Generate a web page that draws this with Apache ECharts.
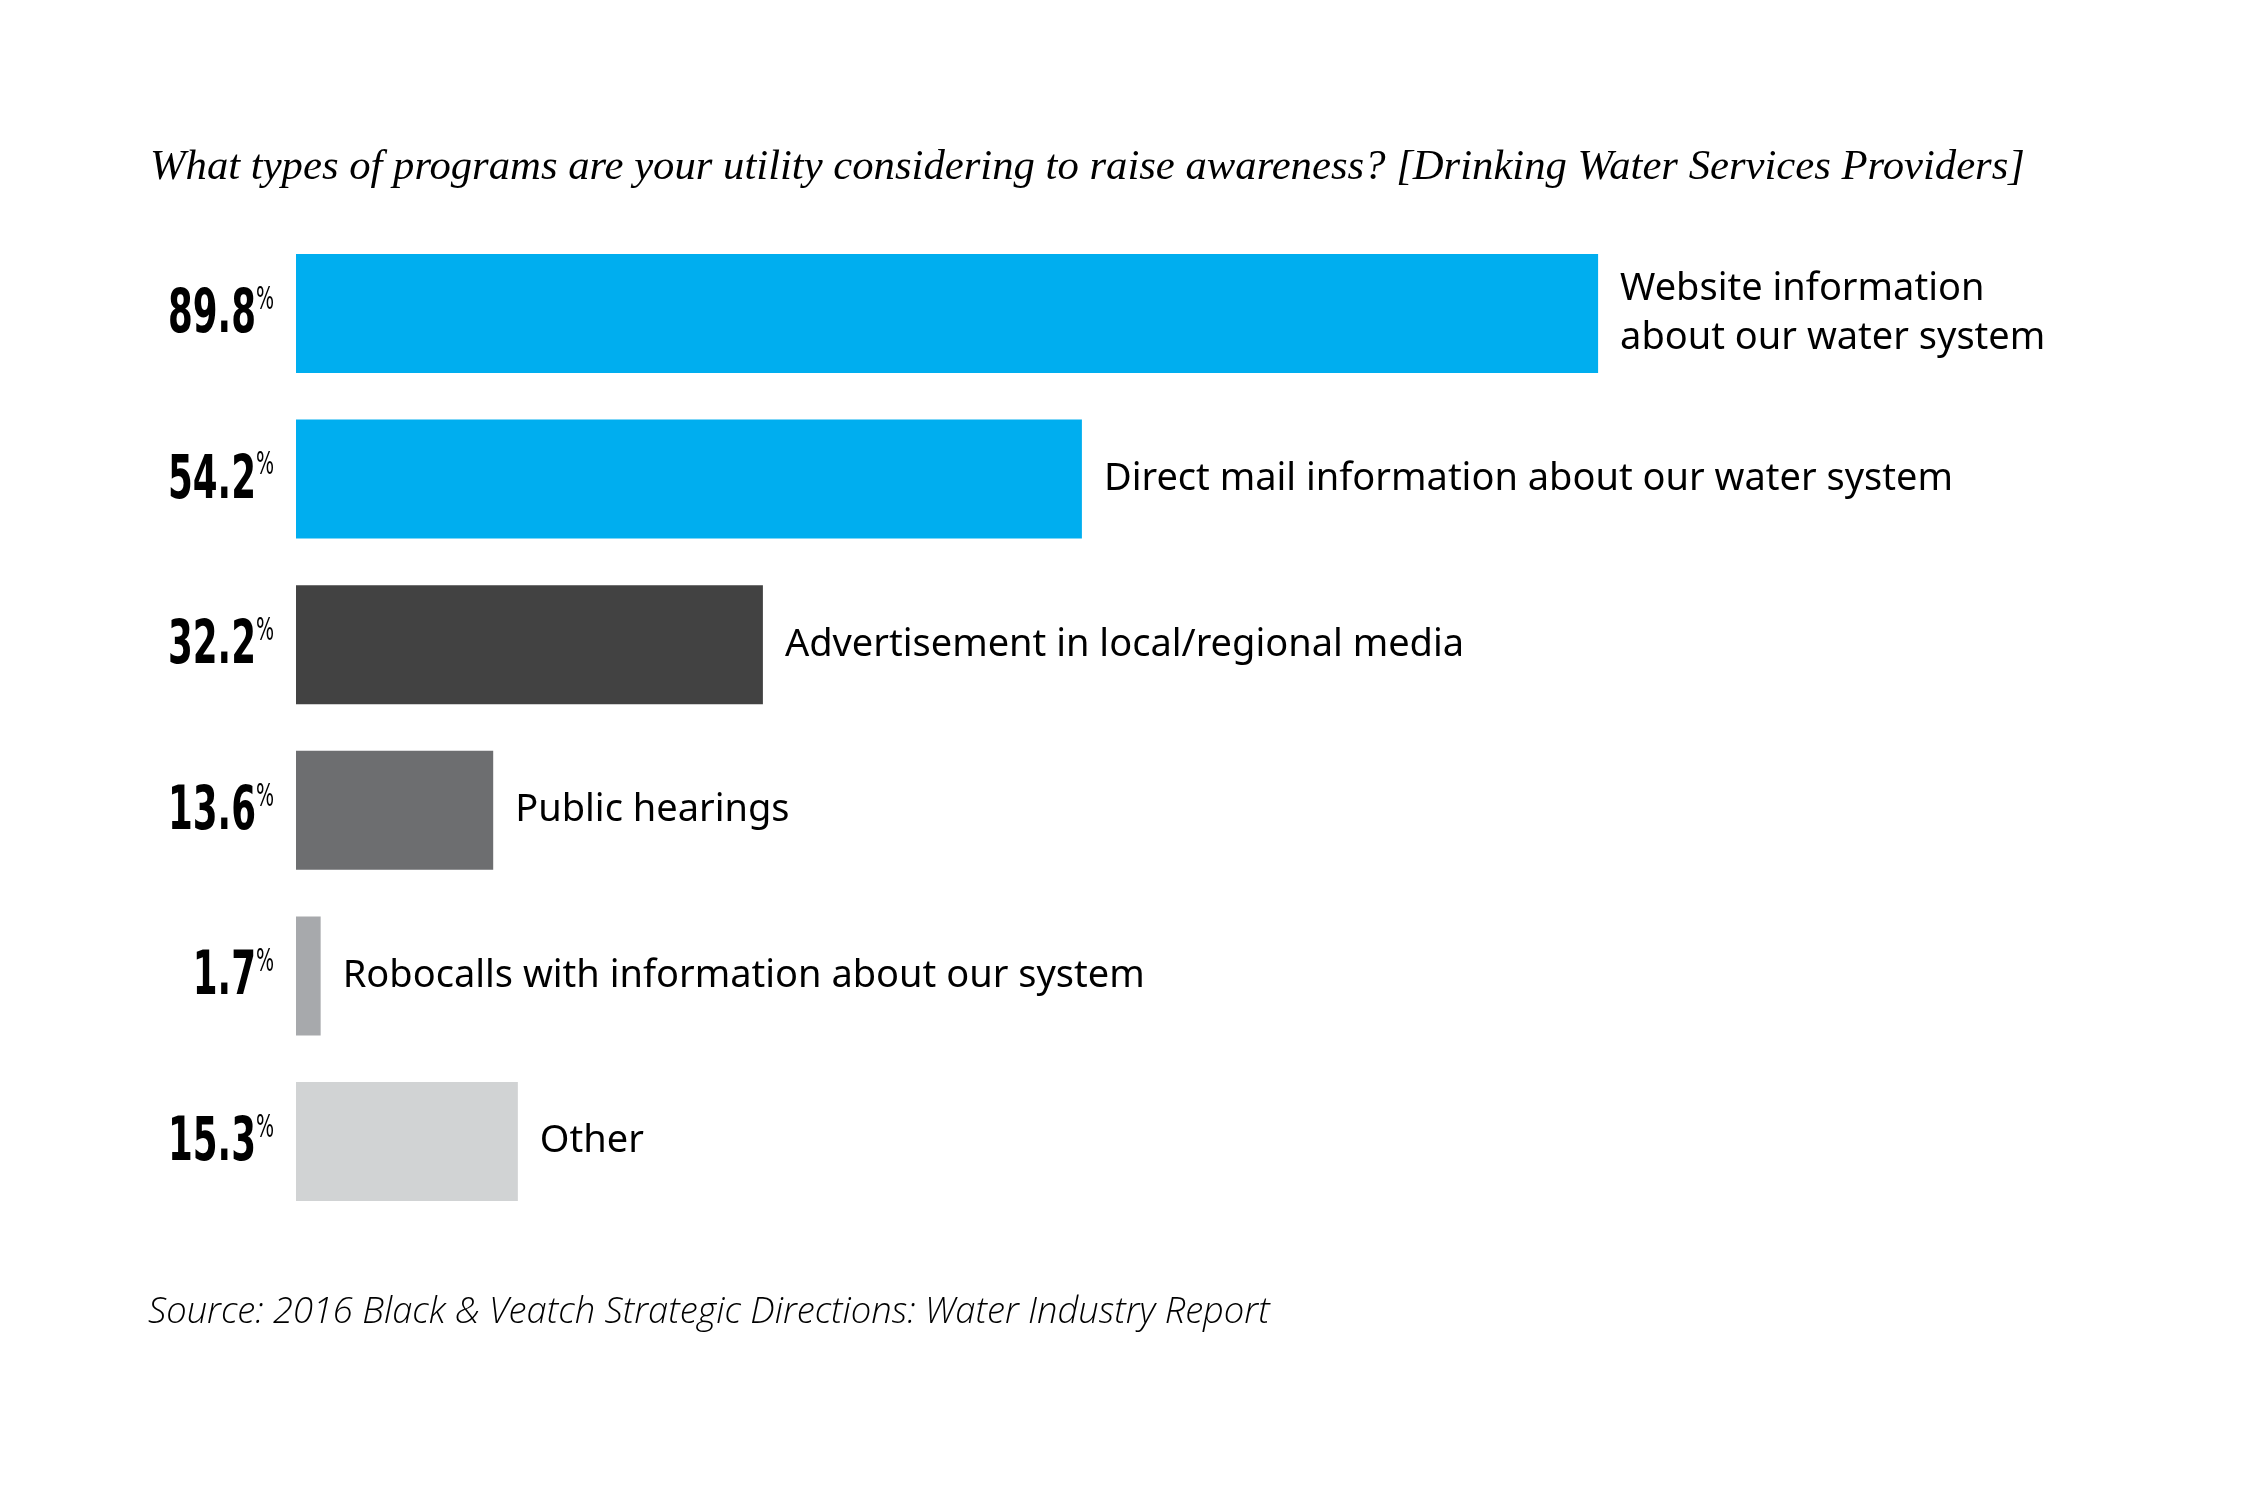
<!DOCTYPE html>
<html>
<head>
<meta charset="utf-8">
<title>Awareness programs</title>
<script src="https://cdn.jsdelivr.net/npm/echarts@6/dist/echarts.min.js"></script>
<style>
  html, body { margin: 0; padding: 0; background: #ffffff; }
  #chart { width: 2250px; height: 1500px; }
</style>
</head>
<body>
<div id="chart"></div>
<script>
// Chart data
const categories = [
    'Website information\nabout our water system',
    'Direct mail information about our water system',
    'Advertisement in local/regional media',
    'Public hearings',
    'Robocalls with information about our system',
    'Other'
];
const values = [89.8, 54.2, 32.2, 13.6, 1.7, 15.3];
const barColors = ['#00AEEF', '#00AEEF', '#424242', '#6D6E70', '#A7A9AC', '#D1D3D4'];

const titleText = 'What types of programs are your utility considering to raise awareness? [Drinking Water Services Providers]';
const sourceText = 'Source: 2016 Black & Veatch Strategic Directions: Water Industry Report';

const numberFont = '"DejaVu Sans Condensed", "DejaVu Sans", sans-serif';

const chart = echarts.init(document.getElementById('chart'));

// Percent labels left of the bars, squeezed horizontally to get the condensed look
function renderValueLabel(params, api) {
    const pt = api.coord([0, api.value(1)]);
    return {
        type: 'text',
        x: pt[0] - 22,
        y: pt[1] + 3,
        scaleX: 0.66,
        style: {
            text: '{v|' + api.value(0) + '}{p|%}',
            align: 'right',
            verticalAlign: 'middle',
            rich: {
                v: {
                    fontFamily: numberFont,
                    fontWeight: 'bold',
                    fontSize: 60,
                    lineHeight: 64,
                    fill: '#000000'
                },
                p: {
                    fontFamily: numberFont,
                    fontSize: 32,
                    lineHeight: 32,
                    verticalAlign: 'top',
                    fill: '#000000'
                }
            }
        }
    };
}

const option = {
    animation: false,
    backgroundColor: '#ffffff',
    title: [{
        text: titleText,
        left: 145,
        top: 141,
        textStyle: {
            fontFamily: 'Liberation Serif',
            fontStyle: 'italic',
            fontWeight: 'normal',
            fontSize: 42.7,
            color: '#000000'
        }
    }, {
        text: sourceText,
        left: 143,
        top: 1290,
        textStyle: {
            fontFamily: 'Open Sans',
            fontStyle: 'italic',
            fontWeight: 300,
            fontSize: 36.3,
            color: '#000000'
        }
    }],
    grid: {
        left: 296,
        right: 504,
        top: 230.7,
        height: 993.6,
        containLabel: false
    },
    xAxis: {
        type: 'value',
        min: 0,
        max: 100,
        show: false
    },
    yAxis: {
        type: 'category',
        inverse: true,
        data: categories,
        axisLine: { show: false },
        axisTick: { show: false },
        axisLabel: { show: false }
    },
    series: [{
        type: 'bar',
        barWidth: 119,
        data: values.map((v, i) => ({ value: v, itemStyle: { color: barColors[i] } })),
        label: {
            show: true,
            position: 'right',
            distance: 22,
            formatter: function (p) {
                return categories[p.dataIndex];
            },
            fontFamily: 'Noto Sans',
            fontSize: 38,
            lineHeight: 49,
            color: '#000000'
        }
    }, {
        type: 'custom',
        renderItem: renderValueLabel,
        silent: true,
        encode: { x: 0, y: 1 },
        data: values.map((v, i) => [v, i])
    }]
};

chart.setOption(option);
</script>
</body>
</html>
